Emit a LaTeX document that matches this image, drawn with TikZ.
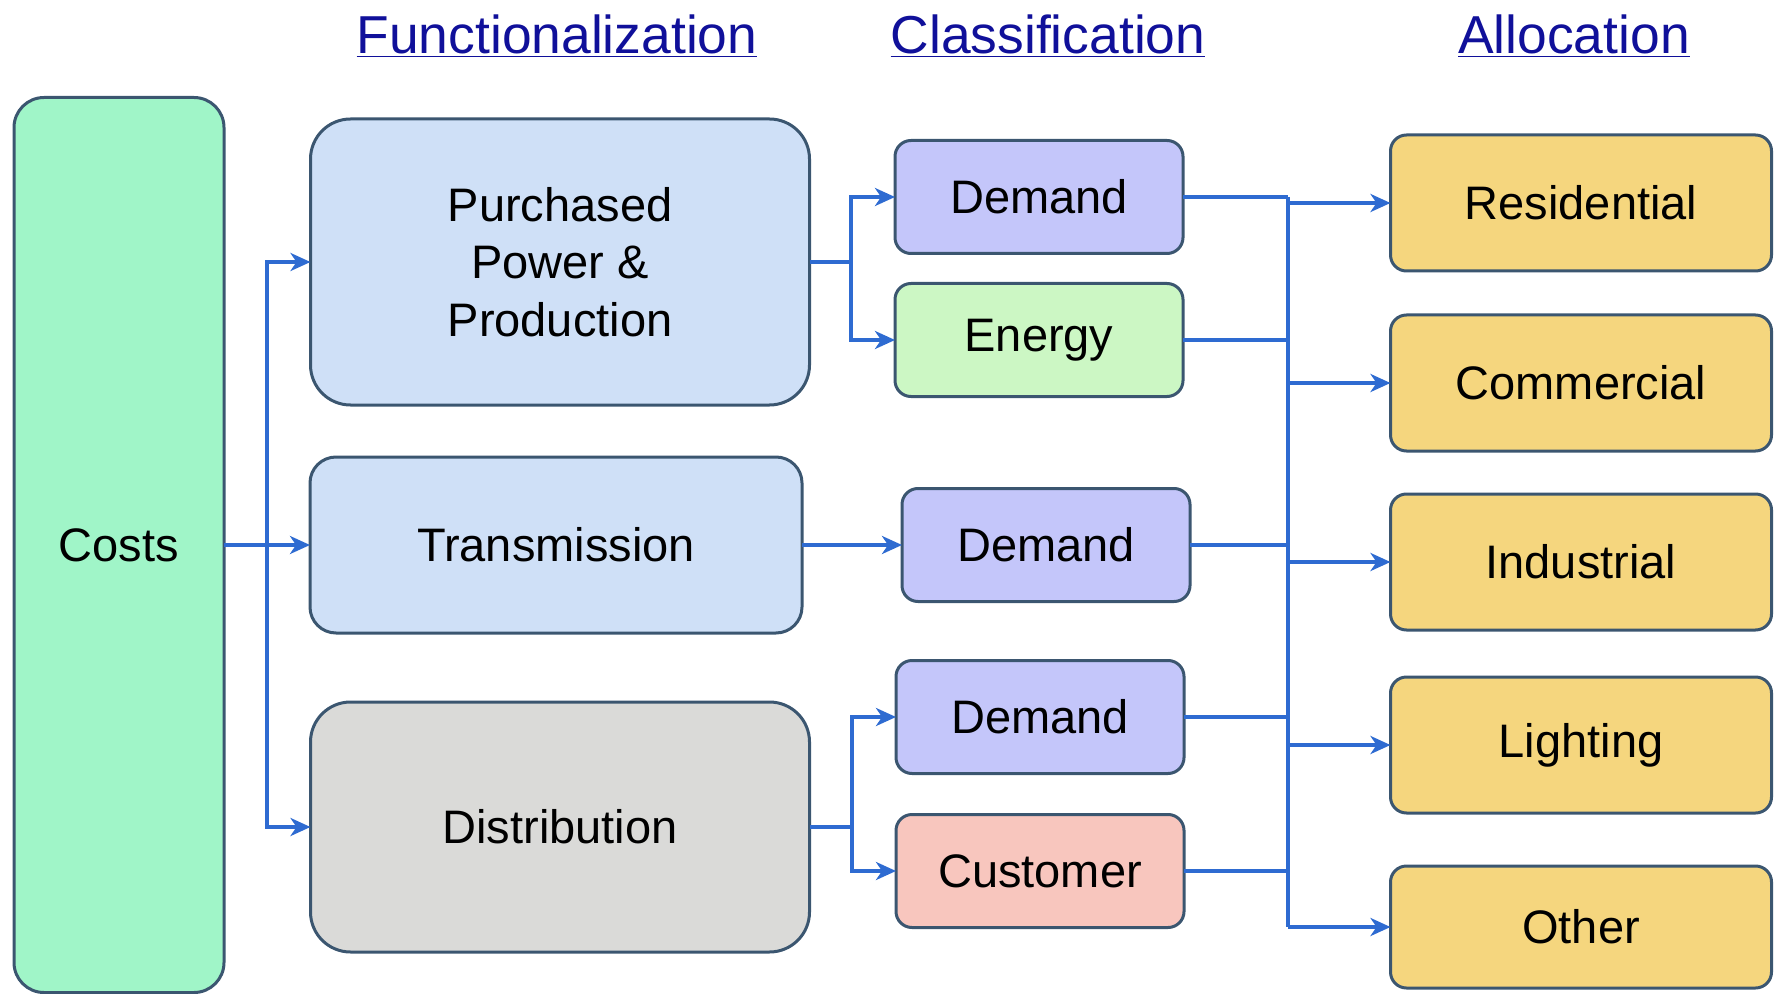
\documentclass[tikz,border=0pt]{standalone}
\usepackage{fontspec}
\setmainfont{Liberation Sans}
\usetikzlibrary{arrows.meta,positioning}

\definecolor{costgreen}{RGB}{160,245,200}
\definecolor{funcblue}{RGB}{207,224,247}
\definecolor{funcgray}{RGB}{218,218,216}
\definecolor{demblue}{RGB}{196,198,250}
\definecolor{enggreen}{RGB}{204,247,196}
\definecolor{custred}{RGB}{248,198,190}
\definecolor{allocyel}{RGB}{245,214,126}
\definecolor{edgeblue}{RGB}{59,86,112}
\definecolor{linkblue}{RGB}{46,107,209}
\definecolor{headblue}{RGB}{16,16,154}

\begin{document}
\begin{tikzpicture}[x=0.5pt,y=-0.5pt,on grid,
    >={Stealth[length=10pt,width=9pt,inset=3pt]},
    box/.style={draw=edgeblue,line width=1.5pt,inner sep=0pt,outer sep=0pt,
      align=center,font=\fontsize{23.5}{28.75}\selectfont},
    funcbox/.style={box,fill=funcblue,minimum width=249.5pt,rounded corners=20pt},
    classbox/.style={box,minimum width=144pt,minimum height=56.5pt,rounded corners=8pt},
    allocbox/.style={box,fill=allocyel,minimum width=190.5pt,minimum height=68pt,rounded corners=8pt},
    heading/.style={text=headblue,font=\fontsize{26.7}{32}\selectfont},
    link/.style={draw=linkblue,line width=1.8pt}]
   \useasboundingbox (0,0) rectangle (1781,994);

   % headings
   \node[heading] (h_func)  at (557,36)  {\underline{Functionalization}};
   \node[heading] (h_class) at (1048,36) {\underline{Classification}};
   \node[heading] (h_alloc) at (1574,36) {\underline{Allocation}};

   % costs and functions
   \node[box,fill=costgreen,minimum width=105pt,minimum height=447.5pt,
         rounded corners=15pt] (costs) at (119,545) {Costs};
   \node[funcbox,minimum height=143pt] (ppp) at (560,262) {Purchased\\Power \&\\Production};
   \node[funcbox,minimum width=246pt,minimum height=88pt,rounded corners=13pt]
        (trans) at (556,545) {Transmission};
   \node[funcbox,fill=funcgray,minimum height=125pt] (dist) at (560,827) {Distribution};

   % classification
   \node[classbox,fill=demblue] (dem_p) at (1039,197) {Demand};
   \node[classbox,fill=enggreen] (eng_p) [below=71.5pt of dem_p] {Energy};
   \node[classbox,fill=demblue] (dem_t) at (1046,545) {Demand};
   \node[classbox,fill=demblue] (dem_d) at (1040,717) {Demand};
   \node[classbox,fill=custred] (cus_d) [below=77pt of dem_d] {Customer};

   % allocation
   \node[allocbox] (res) at (1581,203) {Residential};
   \node[allocbox] (com) [below=90pt of res] {Commercial};
   \node[allocbox] (ind) [below=89.5pt of com] {Industrial};
   \node[allocbox] (lig) [below=91.5pt of ind] {Lighting};
   \node[allocbox,minimum height=61pt] (oth) [below=91pt of lig] {Other};

   \coordinate (c_fork) at (267,545);
   \coordinate (p_fork) at (851,262);
   \coordinate (d_fork) at (852,827);
   \coordinate (bus_t) at (1288,197);
   \coordinate (bus_b) at (1288,927);

   \path
    (costs.east) edge[link,->] (trans.west)
    (trans.east) edge[link,->] (dem_t.west);
   \draw[link,->] (c_fork) |- (ppp.west);
   \draw[link,->] (c_fork) |- (dist.west);
   \draw[link] (ppp.east) -- (p_fork);
   \draw[link,->] (p_fork) |- (dem_p.west);
   \draw[link,->] (p_fork) |- (eng_p.west);
   \draw[link] (dist.east) -- (d_fork);
   \draw[link,->] (d_fork) |- (dem_d.west);
   \draw[link,->] (d_fork) |- (cus_d.west);

   % collecting bus
   \draw[link] (bus_t) -- (bus_b);
   \foreach \n in {dem_p,eng_p,dem_t,dem_d,cus_d}
     \draw[link] (\n.east) -- (\n.east -| bus_t);
   \foreach \n in {res,com,ind,lig,oth}
     \draw[link,->] (\n.west -| bus_t) -- (\n.west);
\end{tikzpicture}
\end{document}
